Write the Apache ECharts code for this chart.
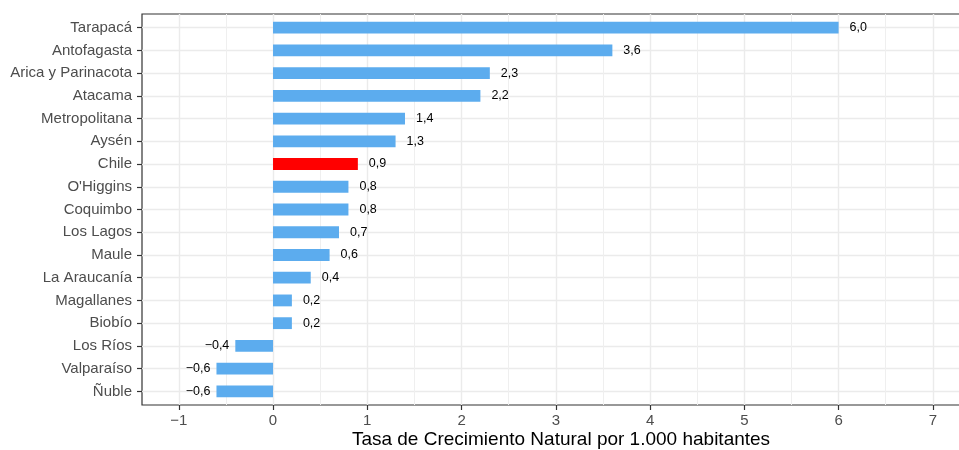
<!DOCTYPE html>
<html>
<head>
<meta charset="utf-8">
<script src="https://cdn.jsdelivr.net/npm/echarts@6/dist/echarts.min.js"></script>
<style>
  html, body { margin: 0; padding: 0; background: #fff; }
  #main { width: 959px; height: 450px; }
</style>
</head>
<body>
<div id="main"></div>
<script>
// datos (de arriba hacia abajo)
const regions = ['Tarapacá', 'Antofagasta', 'Arica y Parinacota', 'Atacama', 'Metropolitana', 'Aysén',
  'Chile', "O'Higgins", 'Coquimbo', 'Los Lagos', 'Maule', 'La Araucanía', 'Magallanes', 'Biobío',
  'Los Ríos', 'Valparaíso', 'Ñuble'];
const rates = [6.0, 3.6, 2.3, 2.2, 1.4, 1.3, 0.9, 0.8, 0.8, 0.7, 0.6, 0.4, 0.2, 0.2, -0.4, -0.6, -0.6];
const highlight = 'Chile';
const xTicks = [-1, 0, 1, 2, 3, 4, 5, 6, 7];
const xMinorTicks = [-0.5, 0.5, 1.5, 2.5, 3.5, 4.5, 5.5, 6.5];
const xTitle = 'Tasa de Crecimiento Natural por 1.000 habitantes';

const font = 'Liberation Sans, Arial, Helvetica, sans-serif';
const fmt = v => (v < 0 ? '\u2212' : '') + Math.abs(v).toFixed(1).replace('.', ',');
const fmtTick = v => (v < 0 ? '\u2212' : '') + Math.abs(v);

// panel del gráfico (estilo ggplot, expansión 0.6 en eje discreto)
const pTop = 14, pBottom = 45, pLeft = 142, pWidth = 838;
const band = (450 - pTop - pBottom) / 17.2;
const xMin = -1.39, xMax = 7.5;

let myChart = echarts.init(document.getElementById('main'));
const option = {
  animation: false,
  textStyle: { fontFamily: font },
  grid: [
    { left: pLeft, width: pWidth, top: pTop, bottom: pBottom, show: true, outerBoundsMode: 'none',
      borderColor: '#333333', borderWidth: 1.2, backgroundColor: 'transparent' },
    { left: pLeft, width: pWidth, top: pTop + 0.1 * band, bottom: pBottom + 0.1 * band, outerBoundsMode: 'none' }
  ],
  xAxis: [
    {
      gridIndex: 0, type: 'value', min: xMin, max: xMax,
      name: xTitle, nameLocation: 'middle', nameGap: 25, nameMoveOverlap: false,
      nameTextStyle: { fontSize: 19, color: '#000', fontFamily: font },
      axisLine: { show: false, onZero: false },
      axisTick: { show: true, length: 5, customValues: xTicks, lineStyle: { color: '#333333', width: 1.2 } },
      axisLabel: { customValues: xTicks, formatter: fmtTick, color: '#4D4D4D', fontSize: 15, margin: 8, fontFamily: font },
      splitLine: { show: true, lineStyle: { color: '#EBEBEB', width: 1.4 } }
    },
    {
      gridIndex: 0, type: 'value', min: xMin, max: xMax,
      axisLine: { show: false, onZero: false },
      axisTick: { show: false, customValues: xMinorTicks },
      axisLabel: { show: false, customValues: xMinorTicks },
      splitLine: { show: true, lineStyle: { color: '#EFEFEF', width: 1 } }
    },
    {
      gridIndex: 1, type: 'value', min: xMin, max: xMax, show: false,
      axisLine: { onZero: false },
      splitLine: { show: false }
    }
  ],
  yAxis: [
    {
      gridIndex: 0, type: 'value', min: -0.6, max: regions.length - 0.4, inverse: true,
      axisLine: { show: false, onZero: false },
      axisTick: { show: false, customValues: regions.map((r, i) => i) },
      axisLabel: { show: false, customValues: regions.map((r, i) => i) },
      splitLine: { show: true, lineStyle: { color: '#EBEBEB', width: 1.4 } }
    },
    {
      gridIndex: 1, type: 'category', data: regions, inverse: true,
      axisLine: { show: false, onZero: false },
      axisTick: { show: true, length: 5, alignWithLabel: true, lineStyle: { color: '#333333', width: 1.2 } },
      axisLabel: { color: '#4D4D4D', fontSize: 15, margin: 10, fontFamily: font },
      splitLine: { show: false }
    }
  ],
  series: [
    {
      type: 'bar',
      xAxisIndex: 2,
      yAxisIndex: 1,
      barWidth: '52%',
      data: rates.map((v, i) => ({
        value: v,
        itemStyle: { color: regions[i] === highlight ? '#FF0000' : '#5CACEE' },
        label: { position: v < 0 ? 'left' : 'right', distance: v < 0 ? 6 : 11 }
      })),
      label: {
        show: true,
        formatter: p => fmt(p.value),
        color: '#000',
        fontSize: 12.5,
        fontFamily: font
      }
    }
  ]
};
myChart.setOption(option);
</script>
</body>
</html>
